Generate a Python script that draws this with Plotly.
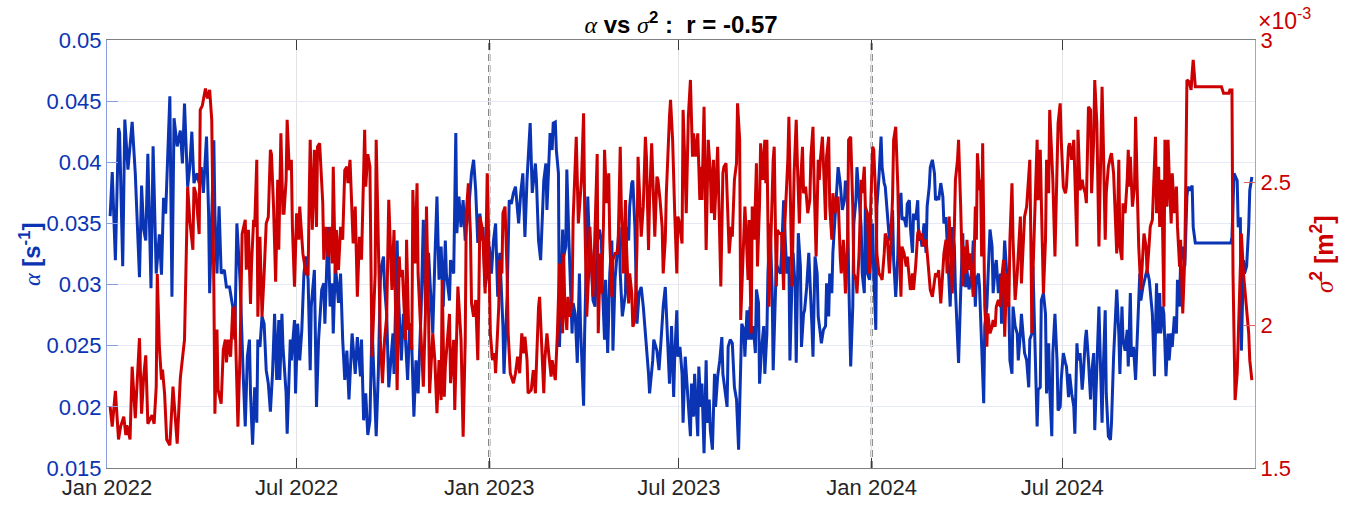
import pandas as pd
import plotly.graph_objects as go

START = pd.Timestamp("2022-01-01")

# alpha [1/s]: days since 2022-01-01 and values
alpha_day = [
    3, 5, 8, 11, 12, 15, 17, 20, 24, 27, 31, 33, 35, 37, 39, 42, 44, 46, 47, 50, 52, 54, 56, 60, 62, 64, 67, 70, 72, 74,
    77, 79, 81, 83, 86, 88, 90, 92, 95, 97, 98, 102, 103, 105, 107, 109, 112, 114, 117, 120, 122, 124, 127, 130,
    132, 134, 136, 137, 139, 141, 143, 144, 146, 148, 150, 152, 154, 156, 158, 160, 162, 164, 165, 167, 168, 171, 172,
    175, 176, 179, 180, 182, 184, 186, 188, 190, 192, 194, 195, 198, 200, 202, 205, 207, 208, 211, 213, 215, 216, 218,
    219, 221, 223, 225, 227, 229, 231, 233, 234, 237, 239, 242, 243, 245, 247, 249, 251, 253, 255, 257, 259, 261, 262,
    264, 265, 267, 269,
    273, 274, 277, 278, 280, 281, 283, 285, 287, 289, 291, 293, 295, 297, 300, 301, 302, 304, 307, 308, 311, 313, 315,
    317, 319, 321, 323, 324, 327, 328, 331, 333, 334, 336, 338, 340, 342, 343, 345, 347, 348, 350, 352, 354, 356, 358,
    359, 361, 363, 365, 367, 369, 371, 373, 375, 378, 379, 382, 384, 386, 388, 390, 393, 395, 397, 399, 401, 404, 406,
    409, 410, 412, 414, 417, 419, 420, 423, 425, 426, 428, 429, 431, 432, 435, 436, 438, 439, 441, 444, 445, 447, 449,
    451, 452, 455, 456, 459, 460, 462, 464, 466, 468, 470, 472, 473, 475, 476, 478, 480, 482, 483, 485, 487, 489, 490,
    492, 495, 496, 498, 499, 501, 502, 504, 506, 508, 510, 512, 514, 515, 517, 518, 521, 522, 525, 527, 529, 531, 533,
    534, 536, 537, 539, 541, 542, 544, 545,
    547, 549, 550, 552, 553, 555, 557, 558, 560, 561, 564, 565, 567, 568, 570, 572, 573, 575, 576, 578, 580, 581, 583,
    585, 587, 588, 590, 592, 593, 595, 597, 599, 601, 603, 604, 606, 608, 609, 611, 612, 614, 615, 617, 619, 620, 622,
    623, 625, 627, 628, 630, 631, 633, 635, 636, 638, 639, 641, 643, 644, 646, 647, 649, 651, 652, 654, 655, 657, 658,
    660, 662, 663, 665, 666, 668, 670, 671, 673, 674, 676, 678, 679, 681, 682, 684,
    686, 687, 689, 690, 692, 693, 695, 697, 698, 700, 702, 704, 705, 707, 708, 710, 712, 713, 715, 716, 718, 720, 721,
    723, 724, 726, 728, 729, 731, 732, 734, 735, 737, 739, 740, 742, 743, 745, 747, 748, 750, 751, 753, 755, 756, 758,
    759, 761, 763, 764, 766, 767, 769, 770, 772, 774, 775, 777, 778, 780, 782, 783, 785, 786, 788, 790, 791, 793, 794,
    796, 798, 799, 801, 802, 804, 805, 807, 809, 810, 812, 813, 815, 817, 818, 820, 821, 823,
    824, 826, 827, 829, 830, 832, 833, 835, 837, 838, 840, 841, 843, 845, 846, 848, 849, 851, 853, 854, 856, 857, 859,
    861, 862, 864, 865, 867, 869, 870, 872, 873, 875, 876, 878, 880, 881, 883, 884, 886, 888, 889, 891, 892, 894, 896,
    897, 899, 900, 902, 903, 905, 907, 908, 910, 911, 913, 915, 916, 918, 919, 921, 923, 924, 926, 927, 929, 931, 932,
    934, 935, 937, 939, 940, 942, 943, 945, 947, 948, 950, 951, 953, 954, 956, 958, 959, 961,
    964, 966, 967, 969, 970, 972, 974, 975, 977, 978, 980, 982, 984, 986, 987, 989, 992, 993, 995, 997, 998, 1000,
    1002, 1003, 1005, 1006, 1008, 1009, 1011, 1013, 1014, 1016, 1017, 1019, 1021, 1022, 1024, 1025, 1027, 1029, 1030,
    1031, 1032, 1034, 1036, 1037, 1039, 1073, 1074, 1076, 1079, 1080, 1082, 1083, 1085, 1086, 1088, 1090, 1091, 1093,
]
alpha_val = [
    .0356, .0392, .0320, .0428, .0424, .0315, .0435, .0394, .0433, .0391, .0306, .0381, .0345, .0336, .0407, .0297,
    .0413, .0347, .0309, .0341, .0308, .0371, .0358, .0454, .0290, .0436, .0413, .0426, .0399, .0448, .0380, .0396,
    .0425, .0383, .0391, .0383, .0396, .0375, .0421, .0358, .0293, .0418, .0358, .0309, .0364, .0309, .0312, .0298,
    .0298, .0282, .0255, .0350, .0304, .0227,
    .0184, .0241, .0255, .0211, .0169, .0216, .0187, .0255, .0249, .0274, .0268, .0230, .0219, .0196, .0227, .0276,
    .0222, .0271, .0222, .0276, .0249, .0211, .0178, .0255, .0238, .0271, .0211, .0268, .0238, .0263, .0309, .0323,
    .0304, .0230, .0282, .0312, .0200, .0255, .0296, .0301, .0268, .0347, .0282, .0301, .0260, .0317, .0304, .0285,
    .0309, .0255, .0222, .0246, .0206, .0241, .0260, .0227, .0257, .0225, .0255, .0189, .0211, .0177, .0189, .0268,
    .0227, .0176, .0227, .0304, .0315, .0323, .0298, .0276, .0216,
    .0260, .0227, .0336, .0296, .0255, .0238, .0276, .0255, .0222, .0268, .0249, .0192, .0238, .0211, .0282, .0323,
    .0353, .0282, .0326, .0309, .0260, .0320, .0372, .0304, .0331, .0282, .0336, .0309, .0287, .0320, .0309, .0424,
    .0342, .0372, .0347, .0369, .0336, .0347, .0358, .0380, .0391, .0402, .0377, .0334, .0358, .0336, .0347, .0298,
    .0309, .0331, .0309, .0336, .0350, .0290, .0326, .0266, .0227, .0290, .0369, .0366, .0375, .0380, .0350, .0375,
    .0391, .0339, .0386, .0432, .0375,
    .0399, .0385, .0336, .0320, .0385, .0399, .0361, .0424, .0410, .0432, .0433, .0410, .0391, .0249, .0345, .0323,
    .0331, .0394, .0336, .0260, .0285, .0276, .0236, .0309, .0268, .0201, .0260, .0372, .0347, .0326, .0287, .0282,
    .0334, .0345, .0336, .0298, .0255, .0304, .0244, .0309, .0336, .0246, .0304, .0328, .0347, .0309, .0274, .0293,
    .0347, .0336, .0364, .0383, .0385, .0347, .0268, .0293, .0298, .0282, .0255, .0249, .0227, .0211, .0238, .0255,
    .0246, .0230, .0255, .0282, .0298, .0276, .0227, .0219, .0266, .0208, .0241, .0279, .0241,
    .0249, .0227, .0187, .0241, .0227, .0206, .0176, .0219, .0192, .0227, .0176, .0233, .0200, .0219, .0162, .0238,
    .0187, .0206, .0181, .0165, .0227, .0200, .0225, .0238, .0257, .0227, .0211, .0200, .0249, .0255, .0252, .0216,
    .0206, .0165, .0200, .0268, .0263, .0241, .0279, .0255, .0282, .0255, .0266, .0244, .0296, .0285, .0219, .0249,
    .0266, .0227, .0260, .0309, .0350, .0296, .0230, .0298, .0317, .0312, .0309, .0326, .0369, .0347, .0309, .0323,
    .0238, .0304, .0326, .0298, .0236, .0342, .0315, .0249, .0276, .0279, .0298, .0326, .0309, .0266, .0241, .0323,
    .0309, .0274, .0260, .0252, .0263,
    .0266, .0301, .0274, .0309, .0293, .0326, .0358, .0385, .0396, .0383, .0361, .0369, .0385, .0372, .0309, .0233,
    .0282, .0350, .0369, .0396, .0372, .0347, .0309, .0293, .0364, .0309, .0304, .0320, .0350, .0309, .0263, .0364,
    .0388, .0421, .0396, .0383, .0380, .0358, .0336, .0342, .0361, .0320, .0290, .0323, .0364, .0375, .0353, .0355,
    .0347, .0366, .0369, .0347, .0326, .0358, .0353, .0369, .0336, .0339, .0331, .0350, .0326, .0364, .0380, .0396,
    .0402, .0391, .0369, .0372, .0369, .0383, .0372, .0350, .0355, .0336, .0304, .0282, .0347, .0331, .0296, .0260,
    .0236, .0293, .0342, .0304, .0298, .0312, .0296,
    .0301, .0315, .0336, .0282, .0304, .0309, .0298, .0255, .0203, .0266, .0282, .0304, .0345, .0331, .0293, .0315,
    .0320, .0293, .0309, .0268, .0309, .0336, .0309, .0282, .0238, .0227, .0282, .0266, .0260, .0238, .0260, .0276,
    .0255, .0244, .0238, .0216, .0255, .0260, .0315, .0255, .0184, .0214, .0216, .0287, .0293, .0276, .0211, .0252,
    .0216, .0176, .0244, .0276, .0238, .0197, .0200, .0222, .0244, .0236, .0233, .0208, .0227, .0211, .0200, .0178,
    .0252, .0238, .0244, .0214, .0225, .0255, .0263, .0238, .0206, .0227, .0244, .0181, .0227, .0282, .0249, .0187,
    .0227, .0279, .0211, .0176, .0173, .0187, .0241,
    .0296, .0260, .0227, .0282, .0255, .0246, .0263, .0233, .0293, .0241, .0249, .0222, .0260, .0309, .0287, .0298,
    .0309, .0312, .0304, .0282, .0276, .0225, .0301, .0260, .0293, .0260, .0282, .0276, .0225, .0260, .0238, .0260,
    .0249, .0274, .0260, .0304, .0282, .0320, .0331, .0315, .0347, .0372, .0380, .0377, .0381, .0347, .0334, .0334,
    .0339, .0391, .0385, .0347, .0355, .0246, .0320, .0309, .0315, .0347, .0377, .0388,
]

# sigma^2 [1e-3 m^2]: days since 2022-01-01 and values
sigma2_day = [
    3, 5, 8, 11, 13, 16, 18, 19, 22, 24, 27, 31, 33, 35, 37, 39, 43, 45, 47, 48, 50, 52, 53, 55, 57, 60, 63, 67, 70,
    72, 74, 77, 79, 82, 83, 85, 88, 89, 91, 94, 96, 98, 100, 102, 103, 105, 106, 109, 111, 113, 114, 116, 118, 120,
    122, 125, 127, 129, 131,
    132, 133, 135, 137, 138, 140, 141, 143, 144, 146, 148, 150, 152, 154, 156, 157, 159, 161, 163, 164, 166, 168, 169,
    171, 172, 174, 176, 177, 179, 181, 183, 184, 186, 187, 190, 192, 193, 194, 196, 198, 200, 201, 203, 206, 207, 209,
    211, 213, 215, 216, 218, 219, 221, 223, 225, 227, 229, 230, 232, 234, 235, 237, 239, 241, 243, 246, 247, 249, 251,
    253, 256, 257, 259, 261, 263, 265, 267, 269,
    272, 274, 277, 279, 280, 282, 285, 286, 288, 289, 291, 292, 294, 296, 297, 300, 302, 304, 305, 307, 308, 311, 313,
    315, 317, 319, 320, 322, 323, 325, 327, 328, 331, 332, 334, 335, 338, 340, 342, 343, 345, 347, 348, 350, 352, 354,
    355, 356, 358, 359, 361, 363, 364, 366, 368, 370, 371, 374, 375, 377, 378, 380, 382, 383, 385, 388, 390, 392, 394,
    396, 398, 399, 401, 402, 405, 407,
    409, 410, 412, 413, 415, 417, 418, 420, 422, 424, 425, 427, 428, 430, 432, 433, 435, 436, 437, 439, 440, 442, 444,
    445, 446, 448, 450, 452, 453, 455, 456, 458, 460, 461, 463, 464, 466, 468, 469, 471, 472, 474, 475, 477, 479, 480,
    482, 483, 485, 487, 488, 490, 491, 493, 495, 496, 498, 499, 501, 502, 504, 506, 507, 509, 510, 512, 514, 515, 517,
    518, 520, 522, 523, 525, 526, 528, 530, 531, 533, 534, 536, 537, 538, 540, 542, 544, 545, 546,
    549, 550, 552, 553, 555, 557, 559, 560, 562, 564, 566, 567, 568, 570, 572, 574, 576, 577, 579, 580, 583, 585, 586,
    588, 589, 591, 593, 594, 596, 597, 599, 601, 602, 604, 605, 607, 609, 610, 612, 613, 615, 616, 618, 620, 621, 623,
    624, 626, 628, 629, 630, 632, 634, 636, 637, 639, 640, 642, 644, 646, 647, 650, 651, 653, 654, 656, 658, 659, 661,
    662, 664, 665, 667, 669, 671, 672, 674, 675, 677, 679, 680, 681, 683, 685,
    686, 687, 689, 690, 692, 693, 695, 697, 698, 700, 701, 703, 705, 707, 708, 710, 712, 713, 715, 716, 718, 720, 721,
    723, 724, 726, 728, 729, 731, 732, 734, 735, 737, 739, 740, 742, 743, 745, 747, 748, 750, 751, 753, 755, 756, 758,
    759, 761, 763, 764, 766, 767, 769, 770, 772, 774, 775, 777, 778, 780, 782, 783, 785, 786, 788, 790, 791, 793, 794,
    796, 798, 799, 801, 802, 804, 805, 807, 809, 810, 812, 813, 815, 817, 818, 820, 821, 823,
    824, 826, 827, 829, 830, 831, 833, 834, 835, 836, 837, 838, 840, 841, 843, 845, 846, 848, 849, 851, 853, 854, 856,
    857, 859, 861, 862, 864, 865, 867, 869, 870, 872, 873, 875, 876, 878, 880, 881, 882, 883, 884, 886, 888, 889, 891,
    892, 894, 896, 897, 899, 900, 902, 903, 905, 907, 908, 910, 911, 913, 915, 916, 918, 919, 921, 923, 924, 926, 927,
    929, 931, 932, 934, 935, 937, 939, 940, 942, 943, 945, 947, 948, 950, 951, 953, 954, 956, 958, 959, 961,
    964, 966, 967, 969, 970, 972, 974, 975, 976, 977, 979, 981, 982, 984, 985, 987, 989, 990, 992, 993, 995, 996, 998,
    1000, 1001, 1002, 1004, 1005, 1007, 1009, 1010, 1012, 1013, 1014, 1016, 1017, 1019, 1021, 1022, 1024, 1025, 1027,
    1029, 1030, 1031, 1033, 1035, 1036, 1037, 1039, 1064, 1066, 1071, 1072, 1074, 1075, 1077, 1079, 1080, 1082, 1083,
    1085, 1086, 1088, 1090, 1091, 1093,
]
sigma2_val = [
    1.715, 1.645, 1.770, 1.600, 1.645, 1.680, 1.615, 1.650, 1.600, 1.855, 1.675, 1.955, 1.690, 1.820, 1.895, 1.655,
    1.685, 1.655, 1.785, 2.180, 1.925, 1.810, 1.845, 1.760, 1.600, 1.580, 1.785, 1.585, 1.815, 1.880, 1.950, 2.485,
    2.370, 2.265, 2.485, 2.460, 2.320, 2.755, 2.770, 2.830, 2.795, 2.825, 2.720, 2.135, 1.690, 1.985, 1.775, 1.725,
    1.915, 1.950, 1.870, 1.950, 1.890, 2.055, 2.065, 1.645, 1.900, 2.320, 2.360,
    2.370, 2.195, 2.335, 2.075, 2.215, 2.370, 2.345, 2.580, 2.030, 2.310, 2.030, 2.180, 2.357, 2.380, 2.615, 2.600,
    2.416, 2.153, 2.510, 2.265, 2.673, 2.393, 2.393, 2.510, 2.720, 2.545, 2.580, 2.345, 2.135, 2.393, 2.300, 2.416,
    2.300, 2.252, 2.180, 2.180, 2.440, 2.650, 2.335, 2.615, 2.345, 2.626, 2.638, 2.428, 2.230, 2.345, 2.241, 2.345,
    2.217, 2.556, 2.182, 2.334, 2.194, 2.345, 2.300, 2.544, 2.556, 2.498, 2.580, 2.416, 2.287, 2.416, 2.100, 2.310,
    2.230, 2.685, 2.486, 2.600, 2.556, 1.890, 2.180, 2.650, 2.252, 1.949, 1.797, 1.949, 2.030, 2.440,
    2.124, 2.334, 1.773, 2.241, 2.170, 2.194, 1.949, 2.300, 1.984, 2.007, 1.914, 2.474, 2.217, 2.498, 2.182, 1.949,
    1.785, 2.040, 2.416, 2.040, 1.762, 1.972, 1.878, 1.692, 1.878, 1.738, 2.159, 1.750, 1.855, 1.949, 2.040, 1.797,
    1.949, 1.703, 2.007, 2.136, 1.949, 1.610, 1.949, 2.393, 2.498, 2.322, 2.077, 2.030, 2.089, 1.878, 2.100, 2.380,
    2.345, 2.300, 2.112, 2.533, 2.369, 1.972, 1.878, 1.902, 1.832, 2.065, 2.229, 2.182, 2.393, 2.416, 2.182, 1.972,
    1.832, 1.797, 1.832, 1.890, 1.832, 1.972, 1.902, 1.960, 1.878, 1.762, 1.773, 1.843,
    1.762, 1.878, 2.065, 2.100, 1.925, 1.762, 1.878, 1.972, 1.890, 1.820, 1.878, 1.832, 1.808, 1.972, 2.217, 2.089,
    1.972, 2.252, 2.077, 1.984, 2.100, 2.030, 2.089, 2.369, 2.463, 2.661, 2.357, 2.463, 2.510, 2.743, 2.416, 2.030,
    2.194, 2.345, 2.182, 2.100, 2.345, 2.600, 1.972, 2.252, 2.112, 2.357, 2.615, 2.428, 2.533, 2.300, 2.100, 2.230,
    2.252, 2.252, 2.287, 2.626, 2.416, 2.182, 2.439, 2.276, 2.077, 2.182, 2.112, 1.995, 2.019, 2.276, 2.591, 2.381,
    2.311, 2.416, 2.661, 2.591, 2.264, 2.439, 2.638, 2.416, 2.311, 2.521, 2.510, 2.439, 2.345, 2.182, 2.300, 2.463,
    2.685, 2.731, 2.790, 2.650, 2.393, 2.182, 2.381, 2.369,
    2.287, 2.755, 2.533, 2.393, 2.731, 2.860, 2.591, 2.673, 2.591, 2.673, 2.439, 2.556, 2.439, 2.766, 2.264, 2.650,
    2.533, 2.393, 2.580, 2.369, 2.626, 2.345, 2.136, 2.533, 2.556, 2.568, 2.345, 2.252, 2.345, 2.311, 2.510, 2.568,
    2.778, 2.650, 2.019, 2.252, 2.416, 2.345, 2.159, 2.369, 1.972, 2.416, 2.300, 2.568, 2.206, 2.428, 2.638, 2.510,
    2.650, 2.498, 2.650, 2.065, 2.345, 2.580, 2.626, 2.136, 2.334, 2.322, 2.322, 2.124, 2.345, 2.580, 2.731, 2.393,
    2.136, 2.533, 2.720, 2.580, 2.357, 2.486, 2.626, 2.463, 2.486, 2.393, 2.439, 2.591, 2.696, 2.510, 2.241, 2.580,
    2.510, 2.580, 2.661, 2.474,
    2.369, 2.591, 2.661, 2.416, 2.300, 2.463, 2.393, 2.439, 2.451, 2.241, 2.182, 2.300, 2.112, 2.300, 2.650, 2.661,
    2.416, 2.182, 2.159, 2.112, 2.252, 2.510, 2.463, 2.556, 2.416, 2.393, 2.182, 2.404, 2.626, 2.615, 2.439, 2.252,
    2.182, 2.170, 2.159, 2.252, 2.322, 2.300, 2.182, 2.252, 2.451, 2.650, 2.696, 2.486, 2.300, 2.100, 2.276, 2.252,
    2.206, 2.241, 2.159, 2.124, 2.182, 2.124, 2.206, 2.322, 2.334, 2.300, 2.322, 2.276, 2.300, 2.252, 2.182, 2.124,
    2.100, 2.159, 2.182, 2.170, 2.194, 2.077, 2.182, 2.252, 2.300, 2.182, 2.381, 2.300, 2.112, 2.345, 2.510, 2.580,
    2.650, 2.416, 2.136, 2.276, 2.182, 2.300, 2.194,
    2.252, 2.159, 2.100, 2.416, 2.300, 2.603, 2.474, 2.510, 2.241, 2.638, 2.345, 2.065, 1.925, 2.042, 1.972, 1.995,
    2.019, 1.995, 2.065, 2.089, 2.065, 2.159, 2.229, 1.960, 2.182, 2.065, 2.300, 2.498, 2.300, 2.089, 2.182, 2.252,
    2.381, 2.147, 2.300, 2.381, 2.416, 2.510, 2.580, 2.300, 1.972, 2.182, 2.416, 2.650, 2.439, 2.615, 2.439, 2.112,
    2.300, 2.580, 2.463, 2.755, 2.591, 2.510, 2.241, 2.533, 2.708, 2.778, 2.650, 2.486, 2.463, 2.486, 2.626, 2.638,
    2.580, 2.650, 2.486, 2.276, 2.685, 2.474, 2.510, 2.486, 2.463, 2.428, 2.766, 2.755, 2.463, 2.650, 2.860, 2.708,
    2.276, 2.474, 2.836, 2.673, 2.300, 2.463, 2.556, 2.591, 2.603, 2.533,
    2.252, 2.580, 2.276, 2.229, 2.428, 2.393, 2.510, 2.615, 2.486, 2.591, 2.416, 2.486, 2.731, 2.416, 2.276, 2.124,
    2.241, 2.322, 2.276, 2.182, 2.287, 2.345, 2.369, 2.533, 2.661, 2.393, 2.556, 2.345, 2.510, 2.065, 2.650, 2.416,
    2.650, 2.533, 2.357, 2.533, 2.393, 2.486, 2.345, 2.206, 2.300, 2.042, 2.241, 2.533, 2.860, 2.854, 2.825, 2.883,
    2.930, 2.836, 2.836, 2.813, 2.813, 2.825, 2.825, 2.182, 1.738, 1.832, 1.972, 2.252, 2.322, 2.182, 2.136, 2.065,
    1.972, 1.878, 1.808,
]

x_tick_dates = ["2022-01-01", "2022-07-01", "2023-01-01", "2023-07-01", "2024-01-01", "2024-07-01"]
x_tick_text = ["Jan 2022", "Jul 2022", "Jan 2023", "Jul 2023", "Jan 2024", "Jul 2024"]
alpha_ticks = [0.015, 0.02, 0.025, 0.03, 0.035, 0.04, 0.045, 0.05]
alpha_tick_text = ["0.015", "0.02", "0.025", "0.03", "0.035", "0.04", "0.045", "0.05"]
sigma2_ticks = [1.5, 2.0, 2.5, 3.0]
sigma2_tick_text = ["1.5", "2", "2.5", "3"]
year_marks = ["2023-01-01", "2024-01-01"]
r_value = -0.57

BLUE = "#0A34B4"
RED = "#CC0000"
FONT = "Liberation Sans"
GREEK = "font-family:'Liberation Serif';font-style:italic;font-weight:normal"

alpha_t = START + pd.to_timedelta(alpha_day, unit="D")
sigma2_t = START + pd.to_timedelta(sigma2_day, unit="D")

fig = go.Figure()
fig.add_trace(go.Scatter(x=alpha_t, y=alpha_val, mode="lines", yaxis="y",
                         line=dict(color=BLUE, width=3), showlegend=False))
fig.add_trace(go.Scatter(x=sigma2_t, y=sigma2_val, mode="lines", yaxis="y2",
                         line=dict(color=RED, width=3), showlegend=False))

# dashed year separators
for d in year_marks:
    fig.add_shape(type="line", xref="x", yref="paper", x0=d, x1=d, y0=0, y1=1,
                  line=dict(color="#505050", width=2, dash="7px,4px"), layer="between")

fig.update_layout(
    width=1349, height=506,
    margin=dict(l=107, r=94, t=40, b=38),
    paper_bgcolor="white", plot_bgcolor="white",
    font=dict(family=FONT, size=22, color="#262626"),
    title=dict(
        text=f"<b><span style=\"{GREEK}\">α</span> vs <span style=\"{GREEK}\">σ</span><sup>2</sup> :  r = {r_value:.2f}</b>",
        x=0.5, xref="paper", xanchor="center", y=1 - 25 / 506, yref="container", yanchor="middle",
        font=dict(family=FONT, size=24, color="#000000"),
    ),
    xaxis=dict(
        type="date", range=["2022-01-01", "2025-01-01"], automargin=False,
        tickvals=x_tick_dates, ticktext=x_tick_text, tickangle=0,
        ticks="inside", ticklen=10, tickcolor="#3a3a3a", tickwidth=1,
        showline=True, linecolor="#808080", linewidth=1, mirror="ticks",
        showgrid=True, gridcolor="#e3e3e3", gridwidth=1, zeroline=False,
        tickfont=dict(family=FONT, size=22, color="#262626"),
    ),
    yaxis=dict(
        range=[0.015, 0.05], tickvals=alpha_ticks, ticktext=alpha_tick_text, automargin=False,
        ticks="inside", ticklen=11, tickcolor="#8a9be0", tickwidth=1,
        showline=True, linecolor="#8a9be0", linewidth=1,
        showgrid=True, gridcolor="#e6e9f6", gridwidth=1, zeroline=False,
        tickfont=dict(family=FONT, size=22, color=BLUE),
    ),
    yaxis2=dict(
        overlaying="y", side="right", range=[1.5, 3.0], automargin=False,
        tickvals=sigma2_ticks, ticktext=sigma2_tick_text,
        ticks="inside", ticklen=11, tickcolor="#e06060", tickwidth=1,
        showline=True, linecolor="#ee8a8a", linewidth=1,
        showgrid=False, zeroline=False,
        tickfont=dict(family=FONT, size=22, color=RED),
    ),
)

fig.add_annotation(
    text=f"<span style=\"{GREEK}\">α</span> <b>[s<sup>-1</sup>]</b>",
    xref="paper", yref="paper", x=(30 - 107) / 1148, y=0.5, textangle=-90,
    showarrow=False, xanchor="center", yanchor="middle",
    font=dict(family=FONT, size=24, color=BLUE),
)
fig.add_annotation(
    text=f"<span style=\"{GREEK}\">σ</span><b><sup>2</sup> [m<sup>2</sup>]</b>",
    xref="paper", yref="paper", x=(1322 - 107) / 1148, y=0.5, textangle=-90,
    showarrow=False, xanchor="center", yanchor="middle",
    font=dict(family=FONT, size=25, color=RED),
)
fig.add_annotation(
    text="×10<sup>-3</sup>",
    xref="paper", yref="paper", x=(1256 - 107) / 1148, y=(468 - 19) / 428,
    showarrow=False, xanchor="left", yanchor="middle",
    font=dict(family=FONT, size=23, color=RED),
)

fig.write_html("out.html")
